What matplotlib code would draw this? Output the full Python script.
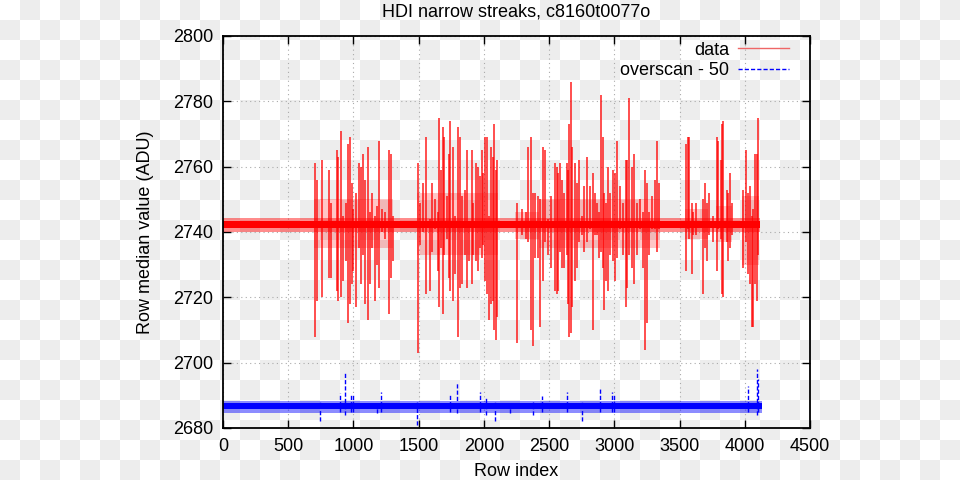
import numpy as np
import matplotlib
matplotlib.use('Agg')
import matplotlib.pyplot as plt
from matplotlib.lines import Line2D

plt.rcParams['font.family'] = ['Liberation Sans', 'DejaVu Sans']

# ---------- data ----------
# quiet noise band of each trace (ADU): solid core and fuzzy outer edge
red_band = (2741.1, 2743.3)
red_fuzz = (2740.0, 2744.4)
blue_band = (2685.7, 2687.6)
blue_fuzz = (2684.6, 2688.4)
n_rows = 4120

# dense parts of the red trace: start row, end row, lower edge, upper edge
burst_start = [700, 1490, 2240, 2420, 3540, 3780, 3980]
burst_end = [1300, 2110, 2420, 3350, 3720, 3900, 4110]
burst_lo = [2735, 2733, 2738, 2735, 2738, 2737, 2730]
burst_hi = [2750, 2752, 2746, 2750, 2747, 2748, 2751]

# red trace ("data"): row, spike top, spike bottom
red_rows = [705, 718, 756, 815, 828, 871, 884, 902, 922, 940, 960, 973, 986, 999, 1017,
            1045, 1058, 1070, 1088, 1109, 1127, 1144, 1162, 1178, 1198, 1216, 1242, 1275,
            1285, 1300, 1497, 1510, 1536, 1556, 1587, 1602, 1625, 1650, 1658, 1668, 1684,
            1694, 1714, 1735, 1740, 1766, 1778, 1804, 1817, 1829, 1855, 1873, 1888, 1906,
            1919, 1939, 1957, 1970, 1983, 1995, 2011, 2021, 2039, 2052, 2067, 2077, 2090,
            2103, 2251, 2289, 2322, 2340, 2358, 2379, 2391, 2417, 2430, 2450, 2468, 2494,
            2512, 2545, 2558, 2571, 2583, 2596, 2614, 2634, 2647, 2655, 2665, 2678, 2698,
            2711, 2731, 2749, 2767, 2793, 2813, 2839, 2852, 2869, 2885, 2900, 2910, 2921,
            2936, 2954, 2967, 2987, 3005, 3023, 3043, 3069, 3089, 3099, 3115, 3133, 3151,
            3171, 3197, 3222, 3237, 3248, 3268, 3286, 3311, 3329, 3345, 3549, 3567, 3575,
            3593, 3606, 3626, 3677, 3695, 3708, 3728, 3754, 3784, 3797, 3815, 3825, 3835,
            3861, 3874, 3887, 3899, 3989, 4009, 4027, 4040, 4053, 4065, 4078, 4091, 4104]
red_hi = [2761, 2756, 2762, 2759, 2749, 2765, 2763, 2771, 2745, 2749, 2767, 2769, 2755, 2747,
          2752, 2761, 2760, 2764, 2756, 2766, 2746, 2752, 2745, 2748, 2768, 2747, 2746, 2765,
          2764, 2745, 2761, 2749, 2755, 2769, 2744, 2755, 2750, 2746, 2775, 2759, 2772,
          2769, 2751, 2764, 2774, 2766, 2745, 2772, 2769, 2751, 2753, 2765, 2743, 2765,
          2749, 2761, 2760, 2757, 2765, 2758, 2769, 2769, 2745, 2766, 2763, 2773, 2759,
          2762, 2749, 2747, 2746, 2766, 2769, 2752, 2752, 2751, 2750, 2766, 2765, 2744,
          2751, 2761, 2760, 2758, 2761, 2756, 2752, 2761, 2759, 2773, 2786, 2766, 2761,
          2755, 2762, 2745, 2754, 2763, 2754, 2758, 2752, 2749, 2746, 2782, 2769, 2752,
          2749, 2760, 2752, 2759, 2758, 2768, 2754, 2749, 2762, 2762, 2781, 2760, 2764,
          2749, 2750, 2746, 2759, 2755, 2746, 2751, 2756, 2768, 2755, 2767, 2769, 2769,
          2749, 2746, 2749, 2750, 2755, 2749, 2752, 2745, 2769, 2768, 2762, 2773, 2774,
          2753, 2752, 2758, 2749, 2753, 2765, 2752, 2754, 2745, 2747, 2764, 2764, 2775]
red_lo = [2708, 2719, 2720, 2726, 2726, 2722, 2719, 2720, 2725, 2731, 2712, 2718, 2724, 2728,
          2717, 2735, 2724, 2733, 2718, 2713, 2724, 2735, 2719, 2730, 2723, 2740, 2738, 2715,
          2726, 2731, 2703, 2736, 2740, 2721, 2722, 2734, 2741, 2728, 2717, 2735, 2715,
          2733, 2738, 2726, 2722, 2719, 2727, 2708, 2723, 2724, 2733, 2723, 2731, 2724,
          2733, 2731, 2728, 2735, 2732, 2736, 2725, 2721, 2713, 2718, 2719, 2710, 2707,
          2714, 2706, 2739, 2738, 2737, 2710, 2705, 2732, 2732, 2711, 2725, 2737, 2733,
          2729, 2722, 2721, 2722, 2734, 2729, 2729, 2733, 2718, 2708, 2709, 2717, 2725,
          2729, 2737, 2739, 2734, 2737, 2741, 2710, 2739, 2739, 2732, 2734, 2729, 2716,
          2725, 2722, 2733, 2731, 2725, 2732, 2741, 2733, 2717, 2723, 2733, 2729, 2724,
          2733, 2741, 2729, 2704, 2712, 2733, 2741, 2741, 2734, 2741, 2728, 2741, 2738,
          2727, 2739, 2739, 2721, 2735, 2731, 2739, 2737, 2728, 2741, 2738, 2721, 2720,
          2737, 2731, 2735, 2739, 2729, 2737, 2727, 2724, 2711, 2711, 2724, 2719, 2733]

# blue trace ("overscan - 50"): row, spike top, spike bottom
blue_rows = [744, 897, 935, 979, 1000, 1180, 1209, 1485, 1740, 1796, 1970, 2020, 2085,
             2200, 2377, 2443, 2635, 2750, 2890, 2980, 3000, 4027, 4091, 4105]
blue_hi = [2688, 2690.6, 2697, 2690.5, 2690, 2688, 2691, 2688, 2690.3, 2694.2, 2691,
           2689.5, 2688, 2688, 2688, 2689.8, 2691, 2688, 2691.8, 2691, 2690, 2693, 2698, 2695]
blue_lo = [2682, 2685, 2684, 2685, 2685, 2684.5, 2685, 2681, 2685, 2684.5, 2685, 2684,
           2682, 2684.5, 2684, 2685, 2685, 2682, 2685, 2685, 2685, 2685, 2684, 2685]

title = 'HDI narrow streaks, c8160t0077o'

# ---------- figure ----------
fig = plt.figure(figsize=(9.6, 4.8), dpi=100)
fig.patch.set_alpha(0)

# checkerboard backdrop as in the reference image
yy, xx = np.mgrid[0:480, 0:960]
checker = np.where(((xx // 20) + (yy // 20)) % 2 == 1, 0.933, 1.0)
fig.figimage(np.dstack([checker] * 3), xo=0, yo=0, origin='upper', zorder=-10)

ax = fig.add_axes([223 / 960, 1 - 428 / 480, (810 - 223) / 960, (428 - 36) / 480])
ax.patch.set_alpha(0)

# red trace
ax.fill_between([0, n_rows], [red_fuzz[0]] * 2, [red_fuzz[1]] * 2,
                color='red', alpha=0.45, lw=0, zorder=2)
ax.fill_between([0, n_rows], [red_band[0]] * 2, [red_band[1]] * 2,
                color='red', lw=0, zorder=2)
for x0, x1, lo, hi in zip(burst_start, burst_end, burst_lo, burst_hi):
    ax.fill_between([x0, x1], [lo] * 2, [hi] * 2, color='red', alpha=0.22, lw=0, zorder=2)
ax.vlines(red_rows, red_lo, red_hi, colors='red', lw=1.3, alpha=0.75, zorder=3)

# blue trace
ax.fill_between([0, n_rows + 10], [blue_fuzz[0]] * 2, [blue_fuzz[1]] * 2,
                color='blue', alpha=0.45, lw=0, zorder=2)
ax.fill_between([0, n_rows + 10], [blue_band[0]] * 2, [blue_band[1]] * 2,
                color='blue', lw=0, zorder=2)
ax.vlines(blue_rows, blue_lo, blue_hi, colors='blue', lw=1.0, linestyles=(0, (3, 1.5)),
          zorder=3)

ax.set_xlim(0, 4500)
ax.set_ylim(2680, 2800)
ax.set_xticks(np.arange(0, 4501, 500))
ax.set_yticks(np.arange(2680, 2801, 20))
ax.tick_params(direction='in', length=6, width=1, top=True, right=True,
               labelsize=13, pad=7, colors='black')
for s in ax.spines.values():
    s.set_linewidth(1.3)
ax.grid(True, color='#aaaaaa', linestyle=(0, (1, 3)), linewidth=0.8)
ax.set_axisbelow(True)

ax.set_title(title, fontsize=13, pad=14)
ax.set_xlabel('Row index', fontsize=13, labelpad=6)
ax.set_ylabel('Row median value (ADU)', fontsize=13, labelpad=14)

handles = [Line2D([], [], color='#ee6666', lw=1),
           Line2D([], [], color='blue', lw=1, linestyle=(0, (3, 1.5)))]
ax.legend(handles, ['data', 'overscan - 50'], loc='upper right', frameon=False,
          markerfirst=False, handlelength=2.8, fontsize=13, borderaxespad=0.0,
          labelspacing=0.2, handletextpad=0.5, bbox_to_anchor=(0.976, 1.004))

fig.savefig('out.png', dpi=100)
